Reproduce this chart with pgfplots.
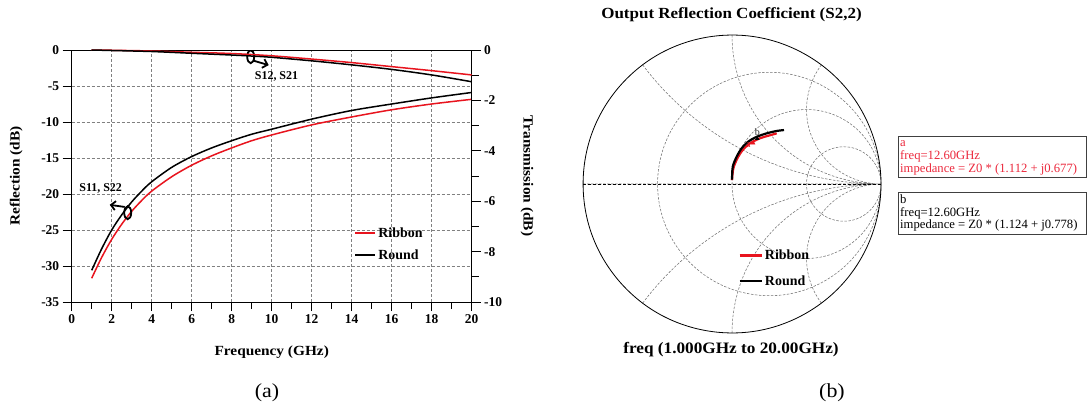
\documentclass[border=0pt]{standalone}
\usepackage{fontspec}
\setmainfont{Liberation Serif}
\usepackage{pgfplots}
\pgfplotsset{compat=1.18}
\usepgfplotslibrary{smithchart}
\usetikzlibrary{arrows.meta}
\definecolor{myred}{RGB}{232,20,30}
\definecolor{boxred}{RGB}{235,40,60}
\newcommand{\tf}{\bfseries\fontsize{13.5}{14}\selectfont}
\newcommand{\lf}{\bfseries\fontsize{14}{15}\selectfont}
\begin{document}
\begin{tikzpicture}[x=1bp,y=1bp]
\path[use as bounding box] (0,0) rectangle (1088,407);

% ---------------- left: reflection ----------------
\begin{axis}[
  at={(71.7bp,105bp)}, anchor=south west,
  scale only axis, width=400bp, height=252bp,
  xmin=0, xmax=20, ymin=-35, ymax=0,
  xtick={0,2,...,20}, ytick={-35,-30,...,0},
  minor x tick num=1,
  xtick pos=bottom, ytick pos=left,
  tick align=outside,
  major tick length=9bp, minor tick length=7bp,
  grid=major,
  major grid style={dash pattern=on 3bp off 2bp, black!50, line width=0.6bp},
  axis line style={line width=1bp},
  every tick/.style={black, line width=0.8bp},
  /pgf/number format/assume math mode=true,
  ticklabel style={font=\tf},
  xlabel={Frequency (GHz)}, ylabel={Reflection (dB)},
  label style={font=\lf, xscale=1.1},
  xlabel style={at={(axis description cs:0.5,-0.198)}, anchor=center},
  ylabel style={at={(axis description cs:-0.139,0.5)}, anchor=center},
  legend style={at={(axis description cs:0.705,0.305)}, anchor=north west,
    draw=none, fill=none, font=\lf, row sep=7bp, inner sep=0pt},
  legend cell align=left,
  legend image code/.code={\draw[line width=2.5bp] (0bp,0bp) -- (20bp,0bp);},
]
\addplot[myred, line width=1.5bp, smooth] coordinates {
 (1,-31.7) (1.5,-28.8) (2,-26.3) (2.5,-24.2) (3,-22.4) (3.5,-20.9) (4,-19.6)
 (5,-17.6) (6,-16.0) (7,-14.7) (8,-13.6) (9,-12.6) (10,-11.8) (12,-10.4)
 (14,-9.3) (16,-8.3) (18,-7.5) (20,-6.85)};
\addlegendentry{Ribbon}
\addplot[black, line width=1.5bp, smooth] coordinates {
 (1,-30.6) (1.5,-27.6) (2,-25.0) (2.5,-22.9) (3,-21.1) (3.5,-19.6) (4,-18.3)
 (5,-16.3) (6,-14.8) (7,-13.6) (8,-12.6) (9,-11.7) (10,-11.0) (12,-9.6)
 (14,-8.4) (16,-7.5) (18,-6.65) (20,-5.9)};
\addlegendentry{Round}
% annotations
\draw[line width=1.8bp] (axis cs:2.8,-22.6) ellipse [x radius=3.5bp, y radius=6.5bp];
\draw[line width=1.8bp, -{Straight Barb[length=4.5bp,width=9bp]}] (axis cs:2.65,-21.8) -- (axis cs:1.9,-21.5);
\node[font=\bfseries\fontsize{12}{12}\selectfont] at (axis cs:1.45,-19.2) {S11, S22};
\draw[line width=1.8bp] (axis cs:8.95,-0.93) ellipse [x radius=3.5bp, y radius=6.5bp];
\draw[line width=1.8bp, -{Straight Barb[length=4.5bp,width=9bp]}] (axis cs:9.05,-1.45) -- (axis cs:9.85,-2.1);
\node[font=\bfseries\fontsize{12}{12}\selectfont] at (axis cs:10.24,-3.61) {S12, S21};
\end{axis}

% ---------------- left: transmission ----------------
\begin{axis}[
  at={(71.7bp,105bp)}, anchor=south west,
  scale only axis, width=400bp, height=252bp,
  xmin=0, xmax=20, ymin=-10, ymax=0,
  axis x line=none, axis y line*=right,
  ytick={-10,-8,...,0}, minor y tick num=1,
  tick align=outside,
  major tick length=9bp, minor tick length=7bp,
  axis line style={line width=1bp},
  every tick/.style={black, line width=0.8bp},
  /pgf/number format/assume math mode=true,
  ticklabel style={font=\tf},
  ylabel={Transmission (dB)},
  label style={font=\lf, xscale=1.1},
  ylabel style={at={(axis description cs:1.138,0.5)}, anchor=center, rotate=180},
]
\addplot[myred, line width=1.5bp, smooth] coordinates {
 (1,0) (2,-0.01) (4,-0.04) (6,-0.09) (8,-0.14) (10,-0.23) (12,-0.36)
 (14,-0.50) (16,-0.66) (18,-0.82) (20,-0.99)};
\addplot[black, line width=1.5bp, smooth] coordinates {
 (1,0) (2,-0.02) (4,-0.06) (6,-0.13) (8,-0.20) (9,-0.24) (10,-0.29) (12,-0.43)
 (14,-0.59) (16,-0.77) (18,-0.99) (20,-1.26)};
\end{axis}

% ---------------- right: Smith chart ----------------
\begin{smithchart}[
  at={(732bp,223bp)}, anchor=center,
  scale only axis, width=298bp,
  xtick={0.3333,1,3}, ytick={-2,-1,-0.5,0,0.5,1,2},
  minor xtick={}, minor ytick={},
  xticklabels={}, yticklabels={},
  major tick length=0pt,
  grid=major,
  major grid style={dash pattern=on 2.5bp off 1.5bp, black!55, line width=0.55bp},
  axis line style={line width=0.8bp, black},
  x axis line style={dash pattern=on 3bp off 2bp, line width=0.7bp},
  legend style={at={(axis description cs:0.52,0.285)}, anchor=north west,
    draw=none, fill=none, font=\lf, row sep=10bp, inner sep=0pt},
  legend cell align=left,
  legend image code/.code={\draw[line width=2.8bp] (0bp,0bp) -- (22bp,0bp);},
]
\addplot[myred, line width=2.2bp, smooth, is smithchart cs] coordinates {
 (0.0,0.026) (0.009,0.105) (0.036,0.172) (0.072,0.228) (0.121,0.273)
 (0.188,0.307) (0.244,0.324) (0.30,0.34)};
\addlegendentry{Ribbon}
\addplot[black, line width=2.2bp, smooth, is smithchart cs] coordinates {
 (0.0,0.03) (0.005,0.116) (0.031,0.183) (0.065,0.24) (0.11,0.285)
 (0.166,0.317) (0.233,0.34) (0.30,0.356) (0.349,0.362)};
\addlegendentry{Round}
\addplot[only marks, mark=triangle*, mark size=2.2bp, myred,
  nodes near coords={a}, every node near coord/.append style={font=\fontsize{10}{10}\selectfont, text=myred, anchor=east, xshift=1bp, yshift=-2bp}]
  coordinates {(1.112,0.677)};
\addplot[only marks, mark=triangle*, mark size=2.2bp, black,
  nodes near coords={b}, every node near coord/.append style={font=\fontsize{10}{10}\selectfont, text=black!80, anchor=south}]
  coordinates {(1.124,0.778)};
\end{smithchart}

\node[font=\bfseries\fontsize{15.5}{16}\selectfont, xscale=1.1] at (731.5,392) {Output Reflection Coefficient (S2,2)};
\node[font=\bfseries\fontsize{16}{16}\selectfont, xscale=1.08] at (731,57) {freq (1.000GHz to 20.00GHz)};

% marker boxes
\draw[black!75, line width=0.8bp] (898.3,270.3) rectangle (1086.7,229.3);
\draw[black!75, line width=0.8bp] (898.3,214.3) rectangle (1086.7,172.7);
\begin{scope}[every node/.style={anchor=base west, inner sep=0pt, font=\fontsize{12.7}{12.7}\selectfont}]
\node[text=boxred] at (900,260.5) {a};
\node[text=boxred] at (900,247.5) {freq=12.60GHz};
\node[text=boxred] at (900,235) {impedance = Z0 * (1.112 + j0.677)};
\node at (900,204) {b};
\node at (900,191) {freq=12.60GHz};
\node at (900,178.3) {impedance = Z0 * (1.124 + j0.778)};
\end{scope}

\node[font=\fontsize{20}{20}\selectfont, xscale=1.1] at (267,14) {(a)};
\node[font=\fontsize{20}{20}\selectfont, xscale=1.1] at (832,14) {(b)};
\end{tikzpicture}
\end{document}
